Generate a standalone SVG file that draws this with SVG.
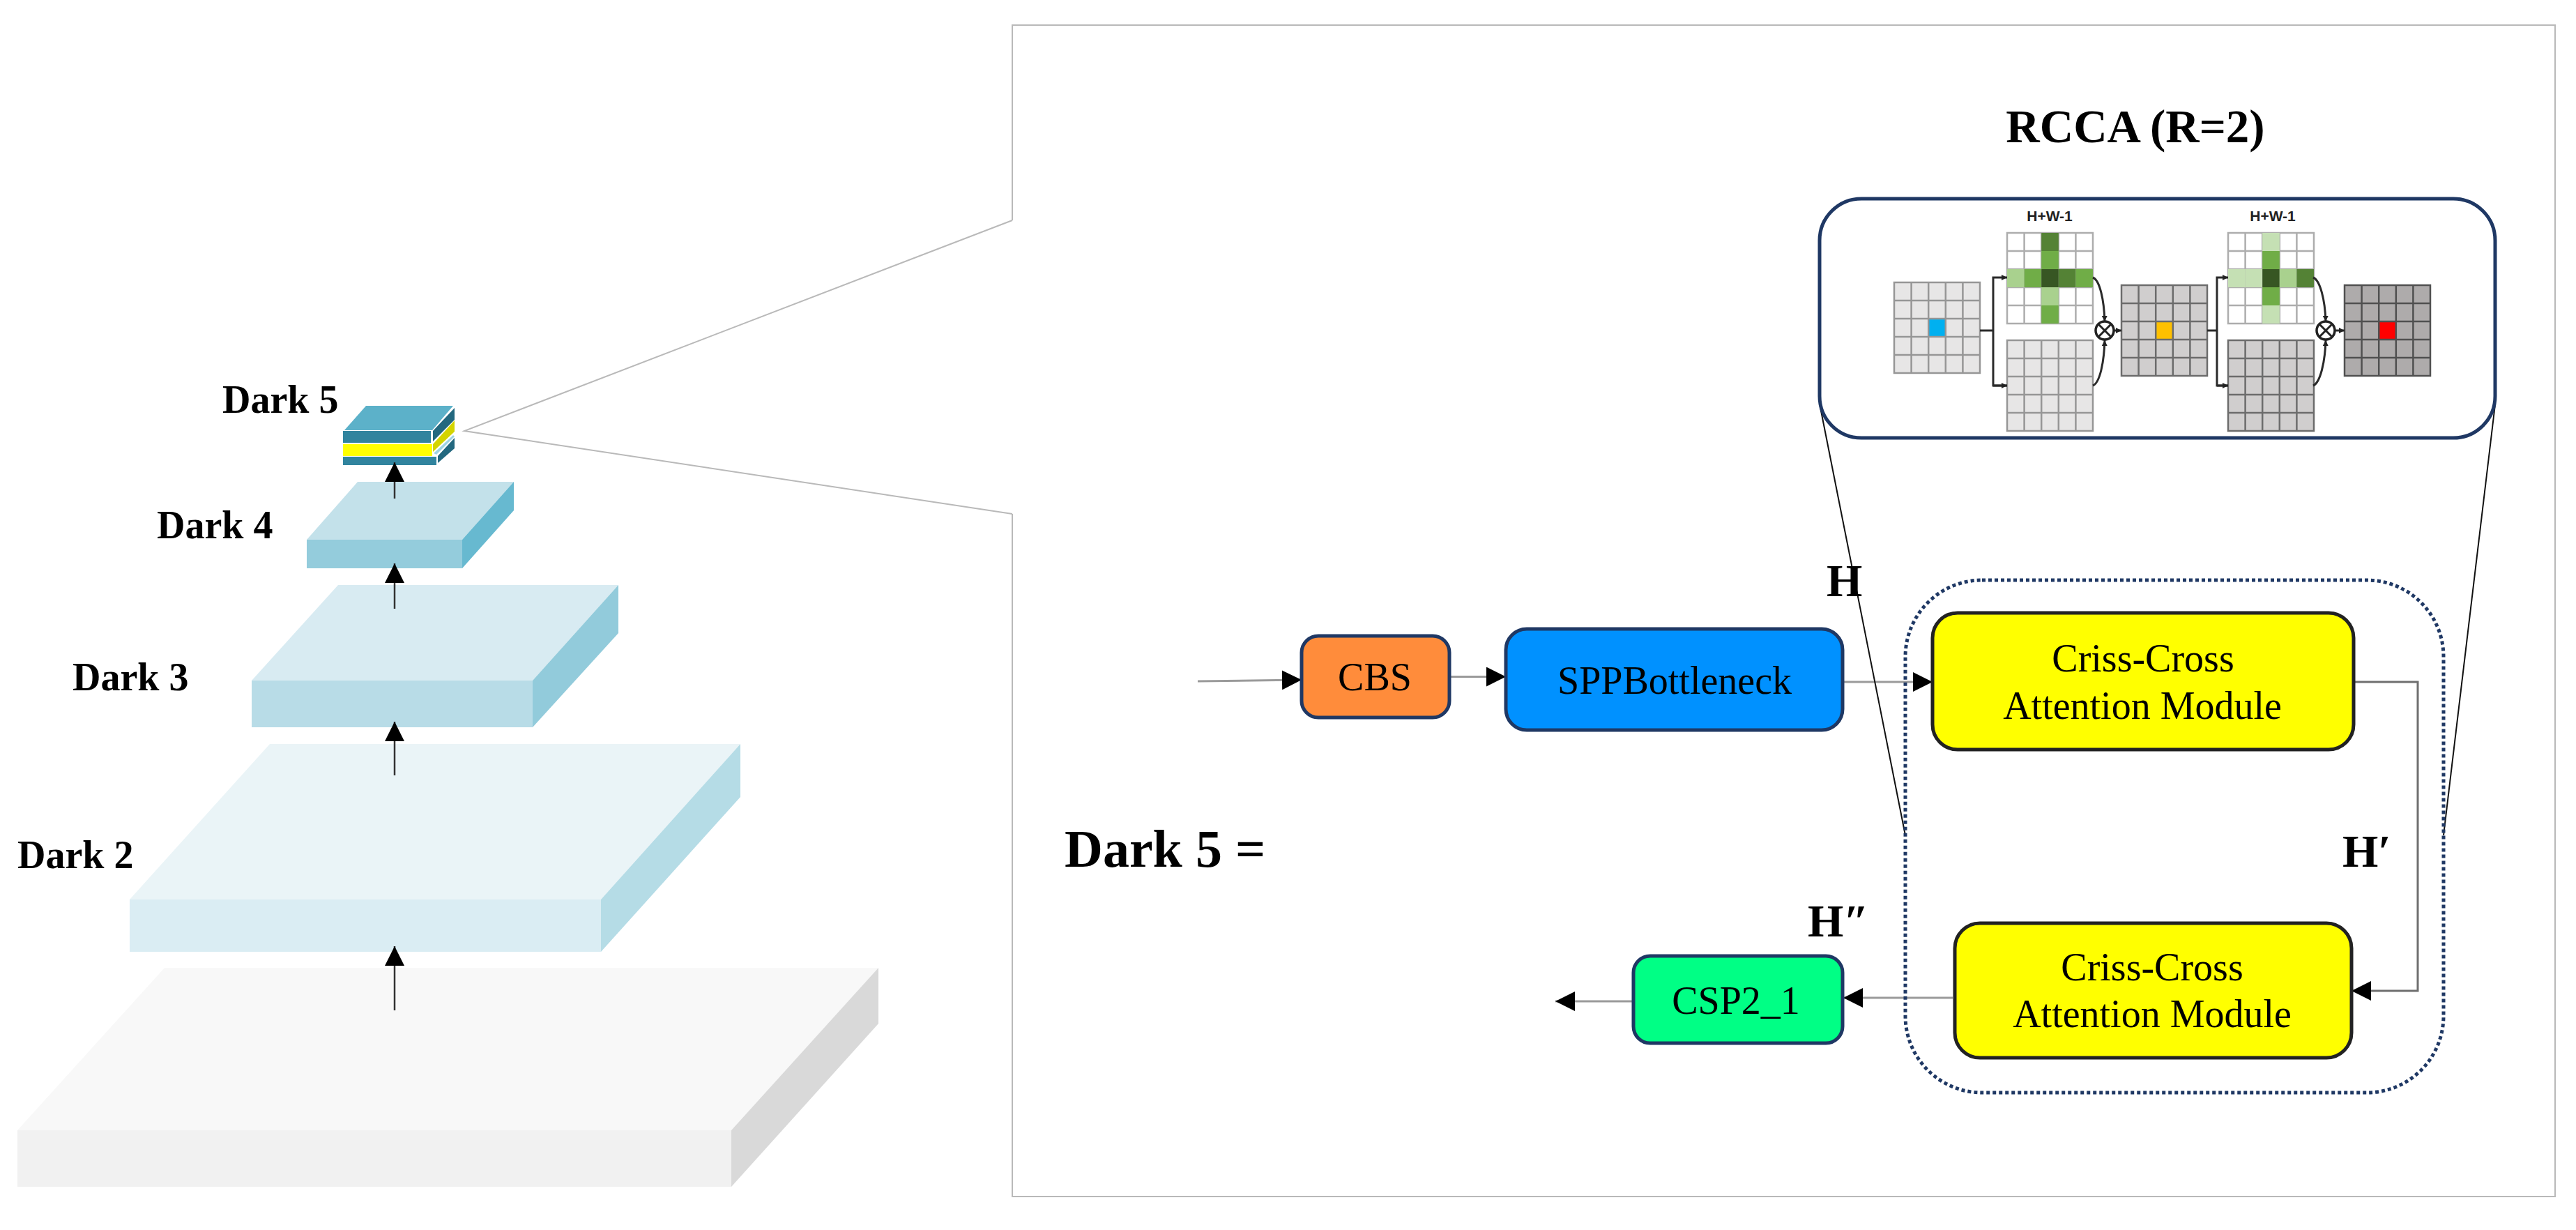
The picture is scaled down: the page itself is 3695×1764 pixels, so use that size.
<svg xmlns="http://www.w3.org/2000/svg" width="3695" height="1764" viewBox="0 0 3695 1764">
<style>
text{font-family:"Liberation Serif","Times New Roman",serif;fill:#000}
.lab{font-size:56px;font-weight:bold}
.h{font-size:66px;font-weight:bold}
.n{font-size:56px;text-anchor:middle}
.hw{font-family:"Liberation Sans",Arial,sans-serif;font-size:21px;font-weight:bold;text-anchor:middle;fill:#222}
.box{stroke:#1f3864;stroke-width:5}
.cca{fill:#ffff00;stroke:#222;stroke-width:5}
.c1{fill:none;stroke:#9a9a9a;stroke-width:3}
.c2{fill:none;stroke:#6f6f6f;stroke-width:3}
.fr{fill:none;stroke:#b9b9b9;stroke-width:2}
.fun{fill:none;stroke:#111;stroke-width:2}
.gw{fill:none;stroke:#adadad;stroke-width:2.5}
.g1{fill:none;stroke:#969696;stroke-width:2.5}
.g2{fill:none;stroke:#6c6c6c;stroke-width:2.5}
.g3{fill:none;stroke:#505050;stroke-width:2.5}
.ink{fill:none;stroke:#2a2a2a;stroke-width:3}
.a{fill:#548235}.b{fill:#70ad47}.d{fill:#375623}.e{fill:#a9d18e}.f{fill:#c5e0b4}
</style>
<defs>
<marker id="ah" markerUnits="userSpaceOnUse" markerWidth="28" markerHeight="28" refX="28" refY="14" orient="auto"><path d="M0 0L28 14L0 28Z" fill="#000"/></marker>
<marker id="am" markerUnits="userSpaceOnUse" markerWidth="8" markerHeight="8" refX="8" refY="4" orient="auto"><path d="M0 0L8 4L0 8Z" fill="#222"/></marker>
<path id="gl" d="M0 0H123V130H0ZM24.6 0V130M49.2 0V130M73.8 0V130M98.4 0V130M0 26H123M0 52H123M0 78H123M0 104H123"/>
<rect id="c" width="24.6" height="26"/>
<g id="ot"><circle cx="0" cy="0" r="13" fill="#fff" stroke="#222" stroke-width="3.5"/><path d="M-9 -9L9 9M-9 9L9 -9" stroke="#222" stroke-width="3" fill="none"/></g>
</defs>
<rect width="3695" height="1764" fill="#fff"/>

<g id="frame">
<path class="fr" d="M1452 316V36H3665V1716H1452V737"/>
<path class="fr" d="M1452 316L666 618L1452 737"/>
</g>

<g id="layer-base">
<path fill="#f8f8f8" d="M25 1621L236 1388H1260L1049 1621Z"/>
<path fill="#f1f1f1" d="M25 1621H1049V1702H25Z"/>
<path fill="#d9d9d9" d="M1049 1621L1260 1388V1468L1049 1702Z"/>
</g>
<g id="layer-dark2">
<path fill="#eaf4f7" d="M186 1290L387 1067H1062L862 1290Z"/>
<path fill="#daedf3" d="M186 1290H862V1365H186Z"/>
<path fill="#b5dce6" d="M862 1290L1062 1067V1143L862 1365Z"/>
<text class="lab" x="25" y="1245">Dark 2</text>
</g>
<g id="layer-dark3">
<path fill="#d8ebf2" d="M361 976L485 839H887L764 976Z"/>
<path fill="#b8dce7" d="M361 976H764V1043H361Z"/>
<path fill="#92cbdb" d="M764 976L887 839V908L764 1043Z"/>
<text class="lab" x="104" y="990">Dark 3</text>
</g>
<g id="layer-dark4">
<path fill="#c3e1ea" d="M440 774L513 691H737L663 774Z"/>
<path fill="#94ccdc" d="M440 774H663V815H440Z"/>
<path fill="#67b9d0" d="M663 774L737 691V732L663 815Z"/>
<text class="lab" x="225" y="772">Dark 4</text>
</g>
<g id="layer-dark5">
<path fill="#5cb1c9" d="M494 617L525 582H650L620 617Z"/>
<rect x="492" y="618" width="126" height="17" fill="#31849e"/>
<rect x="492" y="637" width="128" height="17" fill="#ffff00"/>
<rect x="492" y="655" width="134" height="12" fill="#31849e"/>
<path fill="#23687f" d="M621 618L652 585V602L621 633Z"/>
<path fill="#d4d400" d="M621 637L652 603V619L621 648Z"/>
<path fill="#9fd3e2" d="M622 650L650 624L652 626L626 652Z"/>
<path fill="#23687f" d="M628 654L652 628V643L628 664Z"/>
<text class="lab" x="319" y="592">Dark 5</text>
</g>

<g id="connectors">
<g fill="none" stroke="#333" stroke-width="2.5" marker-end="url(#ah)">
<path d="M566 715V663"/>
<path d="M566 873V808"/>
<path d="M566 1112V1035"/>
<path d="M566 1449V1357"/>
</g>
<path class="c1" marker-end="url(#ah)" d="M1718 977L1867 975"/>
<path class="c1" marker-end="url(#ah)" d="M2081 970.5H2160"/>
<path class="c1" marker-end="url(#ah)" d="M2643 978H2772"/>
<path class="c2" marker-end="url(#ah)" d="M3376 978H3468V1421H3373"/>
<path class="c1" marker-end="url(#ah)" d="M2801 1431H2644"/>
<path class="c1" marker-end="url(#ah)" d="M2343 1436H2231"/>
<path class="fun" d="M2610 579L2733 1198"/>
<path class="fun" d="M3579 580L3505 1198"/>
</g>

<g id="rcca-group">
<rect x="2733" y="832" width="772" height="735" rx="110" ry="110" fill="none" stroke="#1f3864" stroke-width="5" stroke-dasharray="5 4"/>
</g>

<g id="cbs"><rect class="box" x="1867" y="912" width="212" height="117" rx="24" fill="#ff8c3b"/><text class="n" x="1972" y="990">CBS</text></g>
<g id="spp"><rect class="box" x="2160" y="902" width="483" height="145" rx="30" fill="#0091ff"/><text class="n" x="2402" y="995">SPPBottleneck</text></g>
<g id="cca1"><rect class="cca" x="2772" y="879" width="604" height="196" rx="36"/><text class="n" x="3074" y="963">Criss-Cross</text><text class="n" x="3073" y="1031">Attention Module</text></g>
<g id="cca2"><rect class="cca" x="2804" y="1324" width="569" height="193" rx="36"/><text class="n" x="3087" y="1406">Criss-Cross</text><text class="n" x="3087" y="1473">Attention Module</text></g>
<g id="csp"><rect class="box" x="2343" y="1371" width="300" height="125" rx="24" fill="#00ff85"/><text class="n" x="2490" y="1454">CSP2_1</text></g>

<g id="labels">
<text class="h" x="2620" y="855">H</text>
<text class="h" x="3360" y="1243">H′</text>
<text class="h" x="2593" y="1343">H″</text>
<text font-size="76" font-weight="bold" x="1527" y="1243">Dark 5 =</text>
<text font-size="67" font-weight="bold" x="3063" y="204" text-anchor="middle">RCCA (R=2)</text>
</g>

<g id="rcca">
<rect x="2610" y="285" width="969" height="343" rx="60" fill="#fff" stroke="#1f3864" stroke-width="5"/>
<text class="hw" x="2940" y="317">H+W-1</text>
<text class="hw" x="3260" y="317">H+W-1</text>

<rect x="2717" y="405" width="123" height="130" fill="#e7e6e6"/><use href="#c" x="2766.2" y="457" fill="#00b0f0"/><use href="#gl" x="2717" y="405" class="g1"/>
<rect x="2879" y="334" width="123" height="130" fill="#fff"/><use href="#gl" x="2879" y="334" class="gw"/>
<use href="#c" x="2928.2" y="334" class="a"/><use href="#c" x="2928.2" y="360" class="b"/><use href="#c" x="2928.2" y="412" class="e"/><use href="#c" x="2928.2" y="438" class="b"/>
<use href="#c" x="2879" y="386" class="e"/><use href="#c" x="2903.6" y="386" class="b"/><use href="#c" x="2928.2" y="386" class="d"/><use href="#c" x="2952.8" y="386" class="a"/><use href="#c" x="2977.4" y="386" class="b"/>
<rect x="2879" y="488" width="123" height="130" fill="#e7e6e6"/><use href="#gl" x="2879" y="488" class="g1"/>
<rect x="3043" y="409" width="123" height="130" fill="#d0cece"/><use href="#c" x="3092.2" y="461" fill="#ffc000"/><use href="#gl" x="3043" y="409" class="g2"/>
<rect x="3196" y="334" width="123" height="130" fill="#fff"/><use href="#gl" x="3196" y="334" class="gw"/>
<use href="#c" x="3245.2" y="334" class="f"/><use href="#c" x="3245.2" y="360" class="b"/><use href="#c" x="3245.2" y="412" class="b"/><use href="#c" x="3245.2" y="438" class="f"/>
<use href="#c" x="3196" y="386" class="f"/><use href="#c" x="3220.6" y="386" class="f"/><use href="#c" x="3245.2" y="386" class="d"/><use href="#c" x="3269.8" y="386" class="e"/><use href="#c" x="3294.4" y="386" class="a"/>
<rect x="3196" y="488" width="123" height="130" fill="#d0cece"/><use href="#gl" x="3196" y="488" class="g2"/>
<rect x="3363" y="409" width="123" height="130" fill="#aeabab"/><use href="#c" x="3412.2" y="461" fill="#ff0000"/><use href="#gl" x="3363" y="409" class="g3"/>

<g class="ink">
<path d="M2840 474H2859"/><path marker-end="url(#am)" d="M2879 553H2859V398H2879"/>
<path marker-end="url(#am)" d="M2859 553H2879"/>
<path marker-end="url(#am)" d="M3002 398C3012 402 3018 430 3019 461"/>
<path marker-end="url(#am)" d="M3002 553C3012 549 3018 520 3019 488"/>
<path marker-end="url(#am)" d="M3033 474H3043"/>
<path d="M3166 474H3180"/><path marker-end="url(#am)" d="M3196 553H3180V398H3196"/>
<path marker-end="url(#am)" d="M3180 553H3196"/>
<path marker-end="url(#am)" d="M3318 398C3328 402 3335 430 3336 461"/>
<path marker-end="url(#am)" d="M3318 553C3328 549 3335 520 3336 488"/>
<path marker-end="url(#am)" d="M3350 474H3363"/>
</g>
<use href="#ot" x="3019" y="474"/>
<use href="#ot" x="3336" y="474"/>
</g>
</svg>
